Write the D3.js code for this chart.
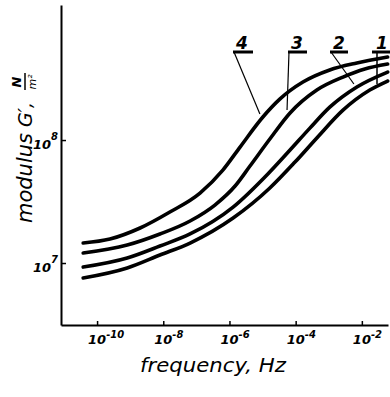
<!DOCTYPE html>
<html>
<head>
<meta charset="utf-8">
<script src="https://cdn.jsdelivr.net/npm/d3@7/dist/d3.min.js"></script>
<style>
  html, body { margin: 0; padding: 0; background: #fff; }
  svg { display: block; }
  text { font-family: "DejaVu Sans", sans-serif; font-style: italic; fill: #000; }
</style>
</head>
<body>
<svg id="chart" width="390" height="397"></svg>
<script>
// ---- data (frequency as log10 Hz exponent, modulus G' in units of 10^7 N/m^2) ----
const curveNames = ["1", "2", "3", "4"];
const freqExp1 = [-10.42, -9.09, -8.10, -7.19, -5.89, -4.78, -4.02, -3.36, -2.57, -1.76, -1.22];
const modulus1 = [0.755, 0.911, 1.161, 1.454, 2.32, 4.07, 6.62, 10.4, 17.5, 25.5, 30.2];
const freqExp2 = [-10.42, -9.09, -8.10, -7.19, -5.89, -4.84, -4.17, -3.57, -2.97, -2.15, -1.22];
const modulus2 = [0.927, 1.098, 1.374, 1.722, 2.85, 5.30, 8.30, 12.5, 18.5, 27.0, 35.7];
const freqExp3 = [-10.42, -9.09, -8.10, -7.19, -6.44, -5.83, -5.38, -4.78, -4.17, -3.36, -2.57, -1.91, -1.22];
const modulus3 = [1.206, 1.400, 1.721, 2.195, 2.961, 4.227, 6.146, 10.19, 16.6, 25.5, 32.5, 37.8, 41.5];
const freqExp4 = [-10.42, -9.61, -8.70, -7.80, -6.89, -6.20, -5.68, -4.99, -4.48, -3.78, -2.97, -2.15, -1.22];
const modulus4 = [1.455, 1.567, 1.926, 2.598, 3.707, 5.70, 8.77, 15.39, 21.5, 29.6, 37.1, 42.3, 47.3];

const xTickExps = [-10, -8, -6, -4, -2];
const yTickExps = [7, 8];
const xTitle = "frequency, Hz";
const yTitleMain = "modulus";
const yTitleSym = "G′,";

// ---- layout ----
const svg = d3.select("#chart");
const x = d3.scaleLog().domain([Math.pow(10, -11.09), Math.pow(10, -1.21)]).range([61, 388]);
const y = d3.scaleLog().domain([Math.pow(10, 6.496), Math.pow(10, 9.098)]).range([325, 5]);

// axes
const gx = svg.append("g").attr("transform", "translate(0,325)")
  .call(d3.axisBottom(x).tickValues(xTickExps.map(e => Math.pow(10, e))).tickSize(-4).tickSizeOuter(0).tickFormat(""));
const gy = svg.append("g").attr("transform", "translate(61,0)")
  .call(d3.axisLeft(y).tickValues(yTickExps.map(e => Math.pow(10, e))).tickSize(-5).tickSizeOuter(0).tickFormat(""));
[gx, gy].forEach(g => {
  g.select(".domain").attr("stroke", "#000").attr("stroke-width", 2);
  g.selectAll(".tick line").attr("stroke", "#000").attr("stroke-width", 1.5);
});

// x tick labels
xTickExps.forEach(e => {
  const px = x(Math.pow(10, e));
  const t = svg.append("text").attr("x", px - 9).attr("y", 344).attr("font-size", 13).attr("font-weight", "bold");
  t.append("tspan").text("10");
  t.append("tspan").attr("dy", -6).attr("font-size", 10).text(e < 0 ? "-" + Math.abs(e) : e);
});
// y tick labels
yTickExps.forEach(e => {
  const py = y(Math.pow(10, e));
  const t = svg.append("text").attr("x", 33).attr("y", py + 9).attr("font-size", 13).attr("font-weight", "bold");
  t.append("tspan").text("10");
  t.append("tspan").attr("dy", -9).attr("font-size", 10).text(e);
});

// curves
const line = d3.line()
  .x(d => x(Math.pow(10, d[0])))
  .y(d => y(d[1] * 1e7))
  .curve(d3.curveMonotoneX);
const series = [
  [freqExp1, modulus1], [freqExp2, modulus2], [freqExp3, modulus3], [freqExp4, modulus4]
];
series.forEach(([fx, gv]) => {
  svg.append("path")
    .attr("d", line(fx.map((f, i) => [f, gv[i]])))
    .attr("fill", "none").attr("stroke", "#000").attr("stroke-width", 3.6)
    .attr("stroke-linecap", "round");
});

// curve labels with leaders (anchored on the curves via scales)
function pt(fx, gv, i) { return [x(Math.pow(10, fx[i])), y(gv[i] * 1e7)]; }
const labelSpecs = [
  { name: "4", lx: 242, tip: pt(freqExp4, modulus4, 7), x0: 233, x1: 253 },
  { name: "3", lx: 297, tip: pt(freqExp3, modulus3, 8), x0: 288, x1: 307 },
  { name: "2", lx: 339, tip: pt(freqExp2, modulus2, 9), x0: 330, x1: 348 },
];
labelSpecs.forEach(s => {
  svg.append("line").attr("x1", s.x0).attr("x2", s.x1).attr("y1", 52).attr("y2", 52)
    .attr("stroke", "#000").attr("stroke-width", 3);
  svg.append("line").attr("x1", s.x0 + 1).attr("y1", 52).attr("x2", s.tip[0] - 3).attr("y2", s.tip[1] - 3)
    .attr("stroke", "#000").attr("stroke-width", 1.2);
  svg.append("text").attr("x", s.lx).attr("y", 49).attr("font-size", 17).attr("font-weight", "bold")
    .attr("text-anchor", "middle").text(s.name);
});
// label 1 comb
svg.append("line").attr("x1", 372).attr("x2", 390).attr("y1", 52).attr("y2", 52).attr("stroke", "#000").attr("stroke-width", 3);
svg.append("text").attr("x", 382).attr("y", 49).attr("font-size", 17).attr("font-weight", "bold").attr("text-anchor", "middle").text("1");
svg.append("line").attr("x1", 377).attr("x2", 377).attr("y1", 52).attr("y2", 84).attr("stroke", "#000").attr("stroke-width", 1.5);

// axis titles
svg.append("text").attr("x", 213).attr("y", 372).attr("font-size", 19).attr("text-anchor", "middle")
  .attr("textLength", 146).attr("lengthAdjust", "spacingAndGlyphs").text(xTitle);
const yg = svg.append("g").attr("transform", "translate(32,223) rotate(-90)");
yg.append("text").attr("x", 0).attr("y", 0).attr("font-size", 22)
  .attr("textLength", 90).attr("lengthAdjust", "spacingAndGlyphs").text(yTitleMain);
yg.append("text").attr("x", 96).attr("y", 0).attr("font-size", 19).text(yTitleSym);
// unit fraction N / m²
yg.append("text").attr("x", 141).attr("y", -11).attr("font-size", 13).attr("font-weight", "bold").attr("text-anchor", "middle").text("N");
yg.append("line").attr("x1", 133).attr("x2", 150).attr("y1", -7).attr("y2", -7).attr("stroke", "#000").attr("stroke-width", 1.5);
yg.append("text").attr("x", 141).attr("y", 4).attr("font-size", 11).attr("text-anchor", "middle").text("m²");
</script>
</body>
</html>
